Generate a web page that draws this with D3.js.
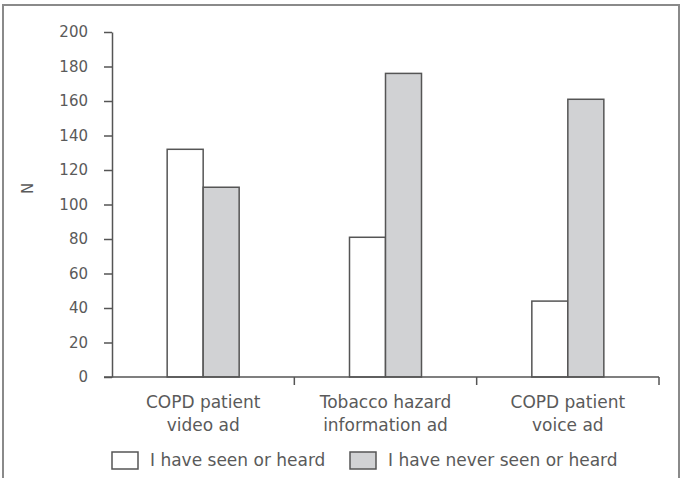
<!DOCTYPE html>
<html>
<head>
<meta charset="utf-8">
<script src="https://cdn.jsdelivr.net/npm/d3@7"></script>
<style>
  body { margin: 0; background: #fff; }
  svg text { font-family: "DejaVu Sans", sans-serif; fill: #5a5a5a; }
</style>
</head>
<body>
<div id="chart"></div>
<script>
// values
var categories = [["COPD patient", "video ad"], ["Tobacco hazard", "information ad"], ["COPD patient", "voice ad"]];
var seriesNames = ["I have seen or heard", "I have never seen or heard"];
var seen = [132, 81, 44];
var neverSeen = [110, 176, 161];
var yTicks = [0, 20, 40, 60, 80, 100, 120, 140, 160, 180, 200];

var width = 681, height = 478;
var margin = { top: 32, right: 22, bottom: 101, left: 112 };
var w = width - margin.left - margin.right;
var h = height - margin.top - margin.bottom;
var colors = ["#ffffff", "#d1d2d4"];

var svg = d3.select("#chart")
    .append("svg")
    .attr("width", width)
    .attr("height", height);

// outer frame
svg.append("rect")
    .attr("x", 3).attr("y", 5)
    .attr("width", 676).attr("height", 480)
    .attr("fill", "none")
    .attr("stroke", "#8a8a8a")
    .attr("stroke-width", 2);

var g = svg.append("g")
    .attr("transform", "translate(" + margin.left + "," + margin.top + ")");

var keys = categories.map(function(d, i) { return i; });

var x0 = d3.scaleBand().domain(keys).range([0, w]).padding(0);
var x1 = d3.scaleBand().domain([0, 1]).range([0, 72]);
var y = d3.scaleLinear().domain([0, 200]).range([h, 0]);

var rows = keys.map(function(i) { return [seen[i], neverSeen[i]]; });

// bars
var groups = g.selectAll(".grp")
    .data(rows)
    .enter()
    .append("g")
    .attr("transform", function(d, i) { return "translate(" + (x0(i) + x0.bandwidth() / 2 - 36) + ",0)"; });

groups.selectAll("rect")
    .data(function(d) { return d; })
    .enter()
    .append("rect")
    .attr("x", function(d, j) { return x1(j); })
    .attr("y", function(d) { return y(d); })
    .attr("width", x1.bandwidth())
    .attr("height", function(d) { return h - y(d); })
    .attr("fill", function(d, j) { return colors[j]; })
    .attr("stroke", "#555")
    .attr("stroke-width", 1.5);

// y axis
var yAxis = g.append("g")
    .call(d3.axisLeft(y).tickValues(yTicks).tickSize(8).tickPadding(16).tickSizeOuter(0));

// x axis with ticks at band edges
var xAxis = g.append("g")
    .attr("transform", "translate(0," + h + ")");
xAxis.append("line")
    .attr("x1", -8).attr("x2", w)
    .attr("stroke", "#555").attr("stroke-width", 1.5);
xAxis.selectAll(".edge")
    .data(keys.concat([keys.length]))
    .enter()
    .append("line")
    .attr("x1", function(d) { return d < keys.length ? x0(d) : w; })
    .attr("x2", function(d) { return d < keys.length ? x0(d) : w; })
    .attr("y1", 0).attr("y2", function(d) { return d === 0 ? 0 : 8; })
    .attr("stroke", "#555").attr("stroke-width", 1.5);

xAxis.selectAll(".cat")
    .data(categories)
    .enter()
    .append("text")
    .attr("text-anchor", "middle")
    .attr("font-size", "17px")
    .each(function(d, i) {
        var t = d3.select(this);
        d.forEach(function(line, k) {
            t.append("tspan")
                .attr("x", x0(i) + x0.bandwidth() / 2)
                .attr("y", 31 + k * 23)
                .text(line);
        });
    });

yAxis.selectAll("path.domain, .tick line")
    .attr("stroke", "#555").attr("stroke-width", 1.5);
yAxis.selectAll(".tick text")
    .attr("font-size", "15px")
    .style("fill", "#5a5a5a");

// y title
g.append("text")
    .attr("transform", "translate(-84," + (h / 2 - 16) + ") rotate(-90)")
    .attr("text-anchor", "middle")
    .attr("dominant-baseline", "middle")
    .attr("font-size", "15px")
    .text("N");

// legend
var legendX = [0, 238];
var legend = g.selectAll(".legend")
    .data(seriesNames)
    .enter()
    .append("g")
    .attr("transform", function(d, i) { return "translate(" + legendX[i] + "," + (h + 75) + ")"; });
legend.append("rect")
    .attr("width", 26).attr("height", 17)
    .attr("fill", function(d, i) { return colors[i]; })
    .attr("stroke", "#555")
    .attr("stroke-width", 1.5);
legend.append("text")
    .attr("x", 38).attr("y", 14)
    .attr("font-size", "17px")
    .text(function(d) { return d; });
</script>
</body>
</html>
